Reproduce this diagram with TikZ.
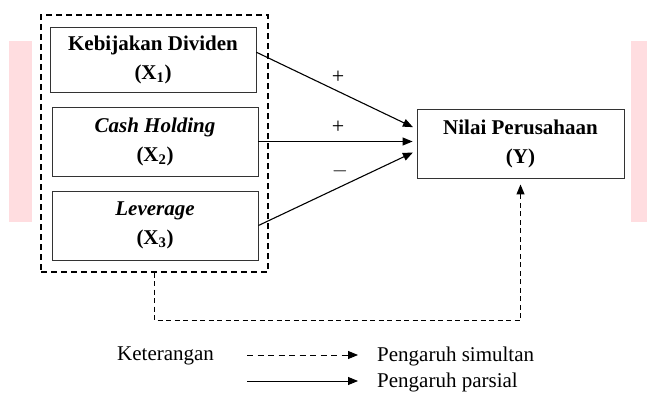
\documentclass[tikz,border=0pt]{standalone}
\usepackage{fontspec}
\setmainfont{Liberation Serif}
\usetikzlibrary{arrows.meta,positioning}
\definecolor{pinkbar}{RGB}{255,221,224}

\begin{document}
\begin{tikzpicture}[
    x=1pt, y=-1pt,
    every node/.style={font=\fontsize{21}{29}\selectfont, inner sep=0pt},
    >={Triangle[length=10pt,width=8pt]},
    varbox/.style={draw=black!80, line width=0.9pt, align=center, minimum width=206pt, minimum height=69pt},
    groupbox/.style={draw, line width=1.4pt, dash pattern=on 6pt off 4pt, minimum width=227pt, minimum height=257pt},
    solidedge/.style={->, line width=1.1pt, shorten >=4pt},
    dashededge/.style={->, line width=1.1pt, dash pattern=on 5pt off 3.5pt},
    sign/.style={font=\fontsize{22}{24}\selectfont},
]
\useasboundingbox (0,0) rectangle (647,393);

% page margins
\fill[pinkbar] (9,41) rectangle (32,222);
\fill[pinkbar] (631,41) rectangle (647,222);

% independent variables
\node[varbox, minimum height=65pt] (X1) at (153,59.5) {\textbf{Kebijakan Dividen}\\ \textbf{(X\textsubscript{1})}};
\node[varbox] (X2) at (155,141.5) {\textbf{\textit{Cash Holding}}\\ \textbf{(X\textsubscript{2})}};
\node[varbox] (X3) at (155,225.5) {\textbf{\textit{Leverage}}\\ \textbf{(X\textsubscript{3})}};

% dependent variable
\node[varbox, minimum width=207pt] (Y) at (520.5,143.5) {\textbf{Nilai Perusahaan}\\ \textbf{(Y)}};

% simultaneous group
\node[groupbox] (group) at (154.5,143.5) {};

% Partial effects
\draw[solidedge] (X1.4) -- (Y.172);
\draw[solidedge] (X2.east) -- (X2.east -| Y.west);
\draw[solidedge] (X3.east) -- (Y.184);
\node[sign] (s1) at (338,77) {+};
\node[sign] (s2) at (338,127) {+};
\node[sign] (s3) at (340,171) {$-$};

% Simultaneous effect
\draw[dashededge, shorten >=6pt] (group.south) -- ++(0,48) -| (Y.south);

% legend
\node[anchor=west] (legend) at (117,356) {Keterangan};
\coordinate (simA) at (247,355);
\coordinate (simB) at (358,355);
\node[anchor=west] (simtext) at (377,356) {Pengaruh simultan};
\coordinate (parA) at (247,381);
\coordinate (parB) at (358,381);
\node[anchor=west] (partext) at (377,382) {Pengaruh parsial};
\draw[->, line width=0.9pt, dash pattern=on 6pt off 4.5pt] (simA) -- (simB);
\draw[->, line width=0.9pt] (parA) -- (parB);

\end{tikzpicture}
\end{document}
